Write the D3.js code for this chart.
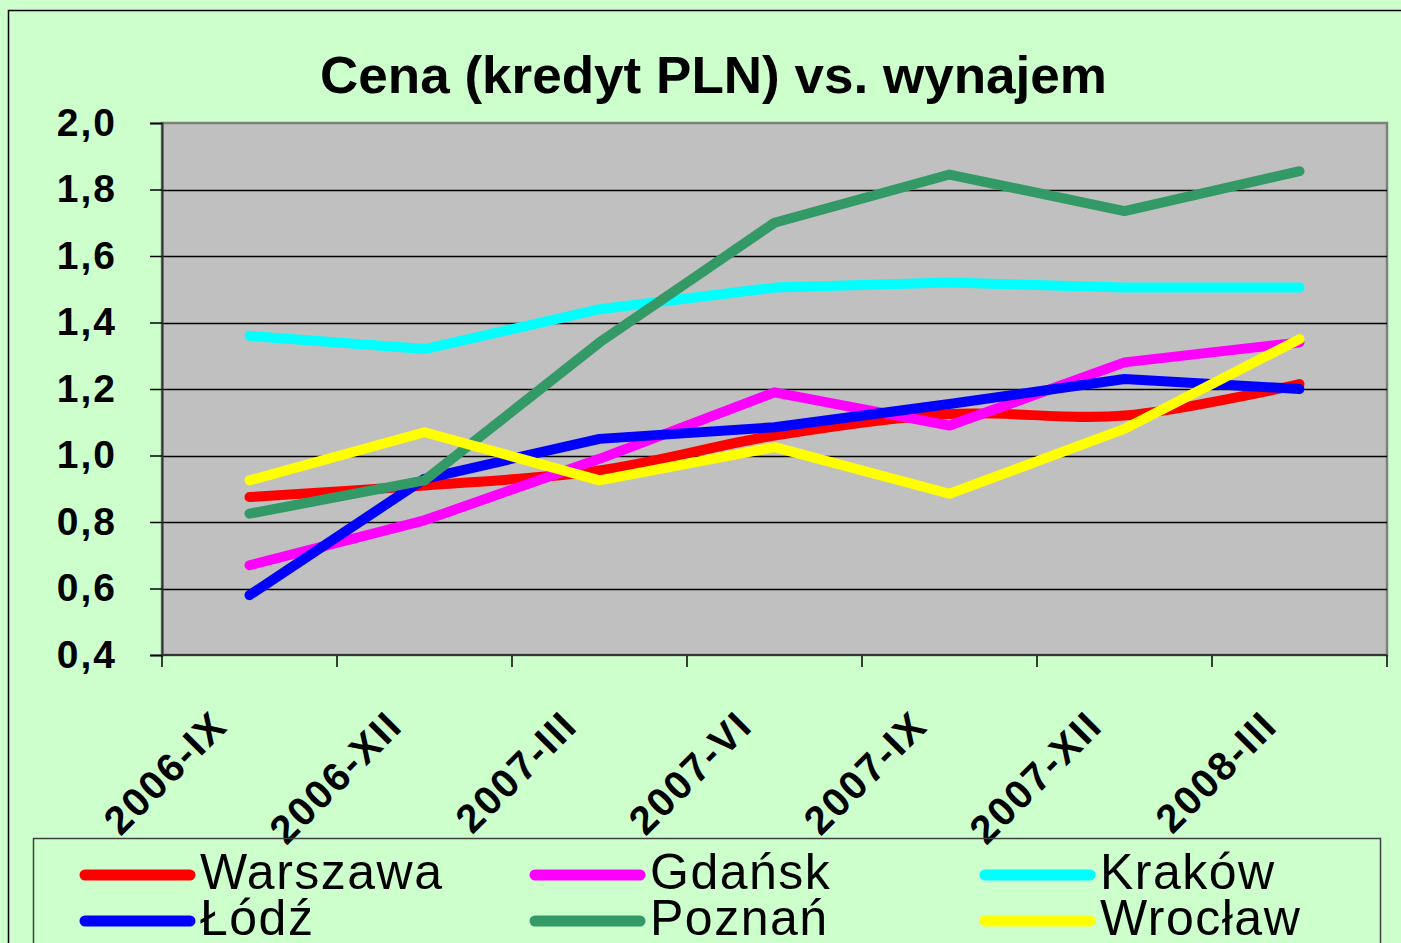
<!DOCTYPE html>
<html>
<head>
<meta charset="utf-8">
<script src="https://cdn.jsdelivr.net/npm/d3@7"></script>
<style>
  html, body { margin: 0; padding: 0; background: #ccffcc; overflow: hidden; }
  svg { display: block; font-family: "Liberation Sans", Arial, sans-serif; }
</style>
</head>
<body>
<svg id="chart" width="1401" height="943"></svg>
<script>
// categories (quarters)
var quarters = ['2006-IX', '2006-XII', '2007-III', '2007-VI', '2007-IX', '2007-XII', '2008-III']
var yTicks = [0.4, 0.6, 0.8, 1.0, 1.2, 1.4, 1.6, 1.8, 2.0]

// values
var warszawa = [0.875, 0.91, 0.955, 1.06, 1.125, 1.12, 1.215]
var gdansk   = [0.67, 0.805, 0.99, 1.19, 1.09, 1.28, 1.34]
var krakow   = [1.36, 1.32, 1.44, 1.505, 1.52, 1.505, 1.505]
var lodz     = [0.58, 0.93, 1.05, 1.085, 1.155, 1.23, 1.20]
var poznan   = [0.825, 0.925, 1.34, 1.70, 1.845, 1.735, 1.855]
var wroclaw  = [0.925, 1.07, 0.925, 1.025, 0.885, 1.08, 1.35]

var seriesNames  = ['Warszawa', 'Gdańsk', 'Kraków', 'Łódź', 'Poznań', 'Wrocław']
var seriesColors = ['#ff0000', '#ff00ff', '#00ffff', '#0000ff', '#339966', '#ffff00']
var seriesValues = [warszawa, gdansk, krakow, lodz, poznan, wroclaw]

var svg = d3.select('#chart')

// outer chart frame
svg.append('rect')
    .attr('x', 8.5).attr('y', 10.5)
    .attr('width', 1420).attr('height', 1000)
    .attr('fill', '#ccffcc').attr('stroke', '#000').attr('stroke-width', 1.5)

var plot = {left: 162, right: 1387, top: 123, bottom: 655}

var x = d3.scaleBand().domain(quarters).range([plot.left, plot.right])
var y = d3.scaleLinear().domain([0.4, 2.0]).range([plot.bottom, plot.top])

// plot area
svg.append('rect')
    .attr('x', plot.left).attr('y', plot.top)
    .attr('width', plot.right - plot.left).attr('height', plot.bottom - plot.top)
    .attr('fill', '#c0c0c0').attr('stroke', '#808080').attr('stroke-width', 2.5)

// gridlines
svg.append('g').selectAll('line')
    .data(yTicks.slice(1, -1))
    .enter().append('line')
    .attr('x1', plot.left).attr('x2', plot.right)
    .attr('y1', function(d){ return Math.round(y(d)) + 0.5 })
    .attr('y2', function(d){ return Math.round(y(d)) + 0.5 })
    .attr('stroke', '#000').attr('stroke-width', 1.5)

// y axis
var yAxis = svg.append('g')
    .attr('transform', 'translate(' + plot.left + ',0)')
    .call(d3.axisLeft(y).tickValues(yTicks).tickSize(12).tickPadding(33)
        .tickFormat(function(d){ return d3.format('.1f')(d).replace('.', ',') }))
yAxis.select('.domain').attr('stroke', '#333').attr('stroke-width', 2)
yAxis.selectAll('.tick line').attr('stroke', '#000').attr('stroke-width', 1.5)
yAxis.selectAll('.tick text')
    .attr('fill', '#000').style('font-size', '39px').style('font-weight', 'bold')
    .style('letter-spacing', '2px')
    .style('font-family', '"Liberation Sans", Arial, sans-serif')

// x axis: ticks at band edges
var edges = quarters.map(function(q){ return x(q) }).concat([plot.right])
svg.append('g').selectAll('line')
    .data(edges)
    .enter().append('line')
    .attr('x1', function(d){ return d }).attr('x2', function(d){ return d })
    .attr('y1', plot.bottom).attr('y2', plot.bottom + 12)
    .attr('stroke', '#000').attr('stroke-width', 1.5)
svg.append('line')
    .attr('x1', plot.left).attr('x2', plot.right)
    .attr('y1', plot.bottom).attr('y2', plot.bottom)
    .attr('stroke', '#333').attr('stroke-width', 2)

svg.append('g').selectAll('text')
    .data(quarters)
    .enter().append('text')
    .attr('transform', function(d){
        var cx = x(d) + x.bandwidth() / 2 - 20
        return 'translate(' + cx + ',728) rotate(-45)'
    })
    .attr('text-anchor', 'end')
    .style('font-size', '40px').style('font-weight', 'bold')
    .style('letter-spacing', '2px')
    .text(function(d){ return d })

// series lines
var line = d3.line()
    .x(function(d, i){ return x(quarters[i]) + x.bandwidth() / 2 })
    .y(function(d){ return y(d) })

seriesValues.forEach(function(vals, k){
    svg.append('path')
        .datum(vals)
        .attr('d', k === 0 ? line.curve(d3.curveCatmullRom)(vals) : line.curve(d3.curveLinear)(vals))
        .attr('fill', 'none')
        .attr('stroke', seriesColors[k])
        .attr('stroke-width', 10)
        .attr('stroke-linecap', 'round')
        .attr('stroke-linejoin', 'round')
})

// title
svg.append('text')
    .attr('x', 320).attr('y', 93)
    .attr('textLength', 787).attr('lengthAdjust', 'spacingAndGlyphs')
    .style('font-size', '52px').style('font-weight', 'bold')
    .text('Cena (kredyt PLN) vs. wynajem')

// legend
svg.append('rect')
    .attr('x', 33.5).attr('y', 838.5)
    .attr('width', 1347).attr('height', 300)
    .attr('fill', 'none').attr('stroke', '#404040').attr('stroke-width', 1.5)

var legendCols = [85, 535, 985]
var legendRows = [875, 921]
var legend = svg.append('g').selectAll('g')
    .data(seriesNames)
    .enter().append('g')
    .attr('transform', function(d, i){
        return 'translate(' + legendCols[i % 3] + ',' + legendRows[Math.floor(i / 3)] + ')'
    })
legend.append('line')
    .attr('x1', 0).attr('x2', 105).attr('y1', 0).attr('y2', 0)
    .attr('stroke', function(d, i){ return seriesColors[i] })
    .attr('stroke-width', 11).attr('stroke-linecap', 'round')
legend.append('text')
    .attr('x', 115).attr('y', 14)
    .style('font-size', '50px').style('letter-spacing', '1.5px')
    .text(function(d){ return d })
</script>
</body>
</html>
